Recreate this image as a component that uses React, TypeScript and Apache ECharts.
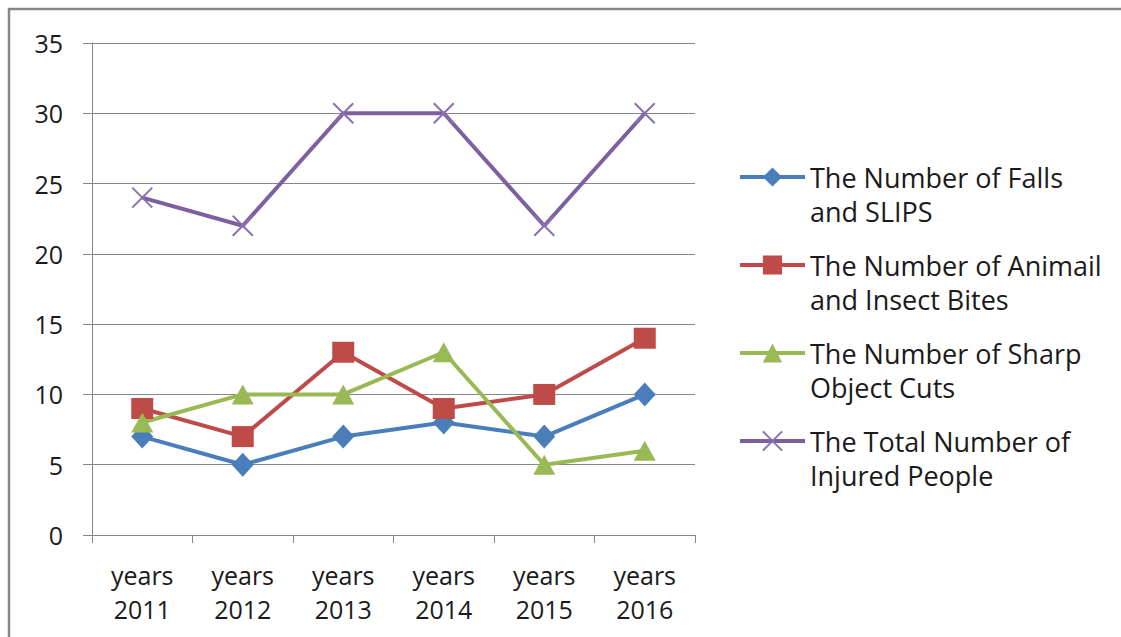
import React, { useEffect, useRef } from "react";
import * as echarts from "echarts";

const categories = ["years\n2011", "years\n2012", "years\n2013", "years\n2014", "years\n2015", "years\n2016"];
const seriesNames = [
  "The Number of Falls\nand SLIPS",
  "The Number of Animail\nand Insect Bites",
  "The Number of Sharp\nObject Cuts",
  "The Total Number of\nInjured People",
];
const falls = [7, 5, 7, 8, 7, 10];
const bites = [9, 7, 13, 9, 10, 14];
const cuts = [8, 10, 10, 13, 5, 6];
const total = [24, 22, 30, 30, 22, 30];
const yTicks = { min: 0, max: 35, interval: 5 };

const colors = ["#4A7EBB", "#BE4B48", "#98B954", "#7D60A0"];
const FONT = "'Open Sans', sans-serif";
const CROSS = "path://M0,0L10,10M10,0L0,10";

export default function App() {
  const ref = useRef<HTMLDivElement>(null);
  useEffect(() => {
    const chart = echarts.init(ref.current!, undefined, { renderer: "svg" });
    const legendTops = [177, 265, 353, 441];
    const legends = seriesNames.map((n, i) => ({
      data: [n],
      orient: "vertical",
      left: 738,
      top: legendTops[i] - 51,
      padding: 0,
      itemWidth: 65,
      itemHeight: 24,
      selectedMode: false,
      formatter: (name: string) => "\n" + name,
      lineStyle: { width: 4 },
      textStyle: {
        fontFamily: FONT,
        fontSize: 27,
        lineHeight: 34,
        color: "#1a1a1a",
      },
    }));
    const mk = (name: string, data: number[], i: number, symbol: string, size: any, extra: any = {}) => ({
      name,
      type: "line",
      data,
      symbol,
      symbolSize: size,
      lineStyle: { color: colors[i], width: 4 },
      itemStyle: { color: colors[i], ...extra },
      z: 2,
    });
    chart.setOption({
      animation: false,
      backgroundColor: "#fff",
      textStyle: { fontFamily: FONT },
      grid: { left: 92, right: 426, top: 43, bottom: 102, containLabel: false },
      legend: legends,
      graphic: [
        {
          type: "rect",
          x: 0,
          y: 0,
          shape: { x: 9, y: 9, width: 1200, height: 700 },
          style: { fill: "none", stroke: "#878787", lineWidth: 2.5 },
          silent: true,
        },
      ],
      xAxis: {
        type: "category",
        data: categories,
        boundaryGap: true,
        axisLine: { lineStyle: { color: "#868686", width: 1 } },
        axisTick: { show: true, length: 8, lineStyle: { color: "#868686" } },
        axisLabel: { fontFamily: FONT, fontSize: 25, lineHeight: 34, color: "#1a1a1a", margin: 23 },
        splitLine: { show: false },
      },
      yAxis: {
        type: "value",
        min: yTicks.min,
        max: yTicks.max,
        interval: yTicks.interval,
        axisLine: { show: true, lineStyle: { color: "#868686", width: 1 } },
        axisTick: { show: true, length: 9, lineStyle: { color: "#868686" } },
        axisLabel: { fontFamily: FONT, fontSize: 25, color: "#1a1a1a", margin: 29 },
        splitLine: { show: true, lineStyle: { color: "#868686", width: 1 } },
      },
      series: [
        mk(seriesNames[0], falls, 0, "diamond", [22, 24]),
        mk(seriesNames[1], bites, 1, "rect", [22, 21]),
        mk(seriesNames[2], cuts, 2, "triangle", [22, 20]),
        mk(seriesNames[3], total, 3, CROSS, [20, 20], { borderColor: "#8a6fb0", borderWidth: 2 }),
      ],
    });
    return () => chart.dispose();
  }, []);
  return (
    <div
      ref={ref}
      style={{ position: "absolute", left: 0, top: 0, width: 1121, height: 637, background: "#fff" }}
    />
  );
}
